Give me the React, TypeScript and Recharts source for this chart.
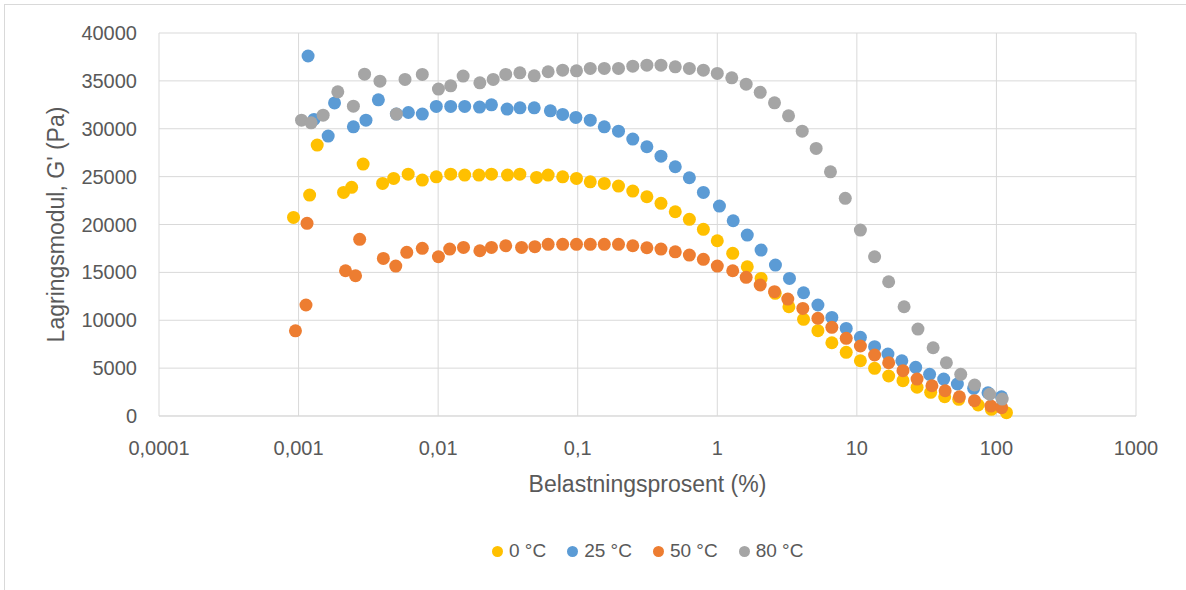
import { CartesianGrid, Label, Scatter, ScatterChart, XAxis, YAxis } from "recharts";

// strain (%) and storage modulus G' (Pa) per temperature
const strain0 = [0.00092, 0.0012, 0.00136, 0.0021, 0.0024, 0.0029, 0.004, 0.0048, 0.0061, 0.0077, 0.0097, 0.0123, 0.0155, 0.0196, 0.0241, 0.0314, 0.0385, 0.0507, 0.0614, 0.078, 0.098, 0.123, 0.155, 0.196, 0.248, 0.313, 0.395, 0.5, 0.631, 0.795, 1.0, 1.29, 1.64, 2.06, 2.6, 3.26, 4.15, 5.26, 6.62, 8.39, 10.6, 13.4, 16.9, 21.4, 27.0, 33.8, 42.6, 53.7, 74, 92, 118];
const modulus0 = [20740, 23070, 28290, 23350, 23880, 26310, 24290, 24810, 25260, 24640, 24980, 25260, 25160, 25160, 25260, 25160, 25260, 24920, 25160, 24980, 24810, 24460, 24290, 24010, 23490, 22900, 22210, 21330, 20540, 19500, 18300, 16990, 15590, 14370, 12810, 11410, 10100, 8910, 7650, 6650, 5770, 4980, 4180, 3690, 3000, 2470, 2010, 1740, 1150, 700, 350];

const strain25 = [0.00117, 0.00129, 0.00163, 0.00181, 0.00247, 0.00304, 0.00373, 0.00502, 0.00612, 0.0077, 0.0097, 0.0123, 0.0155, 0.0198, 0.0241, 0.0312, 0.0386, 0.0488, 0.0637, 0.078, 0.097, 0.123, 0.155, 0.196, 0.248, 0.313, 0.395, 0.5, 0.631, 0.795, 1.036, 1.3, 1.64, 2.06, 2.61, 3.29, 4.15, 5.26, 6.62, 8.39, 10.6, 13.4, 16.7, 21.0, 26.4, 33.2, 41.9, 52.5, 68.7, 87, 108.7];
const modulus25 = [37600, 30975, 29230, 32700, 30200, 30900, 33020, 31530, 31700, 31530, 32330, 32330, 32330, 32260, 32500, 32050, 32190, 32190, 31870, 31500, 31180, 30900, 30200, 29750, 28920, 28120, 27140, 26030, 24880, 23350, 21920, 20390, 18900, 17330, 15760, 14370, 12870, 11590, 10300, 9150, 8220, 7240, 6470, 5770, 5080, 4350, 3860, 3340, 2890, 2430, 2010];

const strain50 = [0.00095, 0.00113, 0.00115, 0.00217, 0.00256, 0.00274, 0.00405, 0.00497, 0.00596, 0.0077, 0.01005, 0.0121, 0.0152, 0.0199, 0.0241, 0.0305, 0.0396, 0.0493, 0.0614, 0.078, 0.098, 0.123, 0.155, 0.196, 0.248, 0.313, 0.395, 0.5, 0.631, 0.795, 1.0, 1.29, 1.61, 2.03, 2.57, 3.2, 4.1, 5.26, 6.62, 8.39, 10.6, 13.4, 16.9, 21.4, 27, 34.5, 42.9, 54.3, 69.6, 91.2, 109];
const modulus50 = [8900, 11590, 20120, 15170, 14650, 18450, 16460, 15660, 17090, 17510, 16630, 17430, 17610, 17260, 17610, 17780, 17610, 17680, 17930, 17930, 17930, 17930, 17930, 17930, 17780, 17570, 17430, 17150, 16810, 16360, 15660, 15170, 14480, 13680, 12980, 12210, 11240, 10200, 9260, 8110, 7310, 6370, 5560, 4730, 3860, 3160, 2640, 2010, 1600, 1040, 870];

const strain80 = [0.00105, 0.00123, 0.0015, 0.00191, 0.00247, 0.00297, 0.00383, 0.00502, 0.00579, 0.0077, 0.01005, 0.0123, 0.0151, 0.0199, 0.0248, 0.0305, 0.0385, 0.0488, 0.0614, 0.078, 0.098, 0.123, 0.155, 0.196, 0.248, 0.313, 0.395, 0.5, 0.631, 0.795, 1.0, 1.27, 1.61, 2.03, 2.57, 3.24, 4.06, 5.11, 6.47, 8.26, 10.6, 13.4, 16.9, 21.8, 27.4, 35.2, 43.8, 55.5, 69.8, 89.5, 110];
const modulus80 = [30900, 30620, 31420, 33860, 32360, 35700, 34970, 31530, 35150, 35670, 34140, 34480, 35500, 34800, 35150, 35670, 35840, 35530, 35950, 36120, 36050, 36300, 36300, 36300, 36540, 36640, 36640, 36470, 36300, 36120, 35780, 35320, 34660, 33800, 32710, 31350, 29750, 27950, 25500, 22730, 19420, 16630, 14020, 11410, 9080, 7130, 5560, 4350, 3240, 2270, 1770];

const seriesNames = ["0 °C", "25 °C", "50 °C", "80 °C"];
const xTicks = [0.0001, 0.001, 0.01, 0.1, 1, 10, 100, 1000];
const yTicks = [0, 5000, 10000, 15000, 20000, 25000, 30000, 35000, 40000];

const COLORS = ["#FFC000", "#5B9BD5", "#ED7D31", "#A5A5A5"];
const FONT = "'Liberation Sans', Arial, sans-serif";
const TEXT = "#595959";

const toPoints = (xs: number[], ys: number[]) => xs.map((x, i) => ({ x, y: ys[i] }));

const series = [
  toPoints(strain0, modulus0),
  toPoints(strain25, modulus25),
  toPoints(strain50, modulus50),
  toPoints(strain80, modulus80),
];

// decimal comma, e.g. 0,001
const fmt = (v: number) => String(v).replace(".", ",");

const Dot = (props: any) => {
  const { cx, cy, fill } = props;
  return <circle cx={cx} cy={cy} r={6.5} fill={fill} />;
};

const App = () => {
  return (
    <div style={{ position: "absolute", left: 0, top: 0, width: 1186, height: 590, background: "#fff", fontFamily: FONT }}>
      <div style={{ position: "absolute", left: 4, top: 4, width: 1190, height: 600, borderLeft: "1px solid #D9D9D9", borderTop: "1px solid #D9D9D9" }} />
      <ScatterChart width={1186} height={590} margin={{ top: 33, right: 50, bottom: 74, left: 0 }}>
        <CartesianGrid stroke="#D9D9D9" />
        <XAxis
          type="number"
          dataKey="x"
          scale="log"
          domain={[0.0001, 1000]}
          ticks={xTicks}
          allowDataOverflow
          tickFormatter={fmt}
          tickLine={false}
          tickSize={0}
          tickMargin={25}
          axisLine={{ stroke: "#D9D9D9" }}
          tick={{ fill: TEXT, fontSize: 20, fontFamily: FONT }}
          height={100}
        >
          <Label value="Belastningsprosent (%)" position="insideBottom" offset={24} style={{ fill: TEXT, fontSize: 23, fontFamily: FONT }} />
        </XAxis>
        <YAxis
          type="number"
          dataKey="y"
          domain={[0, 40000]}
          ticks={yTicks}
          width={159}
          tickLine={false}
          tickSize={0}
          tickMargin={22}
          axisLine={false}
          tick={{ fill: TEXT, fontSize: 20, fontFamily: FONT }}
        >
          <Label value="Lagringsmodul, G' (Pa)" angle={-90} position="insideLeft" offset={56} style={{ fill: TEXT, fontSize: 23, fontFamily: FONT, textAnchor: "middle" }} />
        </YAxis>
        {series.map((pts, i) => (
          <Scatter key={seriesNames[i]} name={seriesNames[i]} data={pts} fill={COLORS[i]} shape={Dot} isAnimationActive={false} />
        ))}
      </ScatterChart>
      <div style={{ position: "absolute", top: 540, left: 492, display: "flex", gap: 21, color: TEXT, fontSize: 19 }}>
        {seriesNames.map((n, i) => (
          <div key={n} style={{ display: "flex", alignItems: "center" }}>
            <span style={{ width: 11, height: 11, borderRadius: 6, background: COLORS[i], marginRight: 6 }} />
            <span>{n}</span>
          </div>
        ))}
      </div>
    </div>
  );
};

export default App;
